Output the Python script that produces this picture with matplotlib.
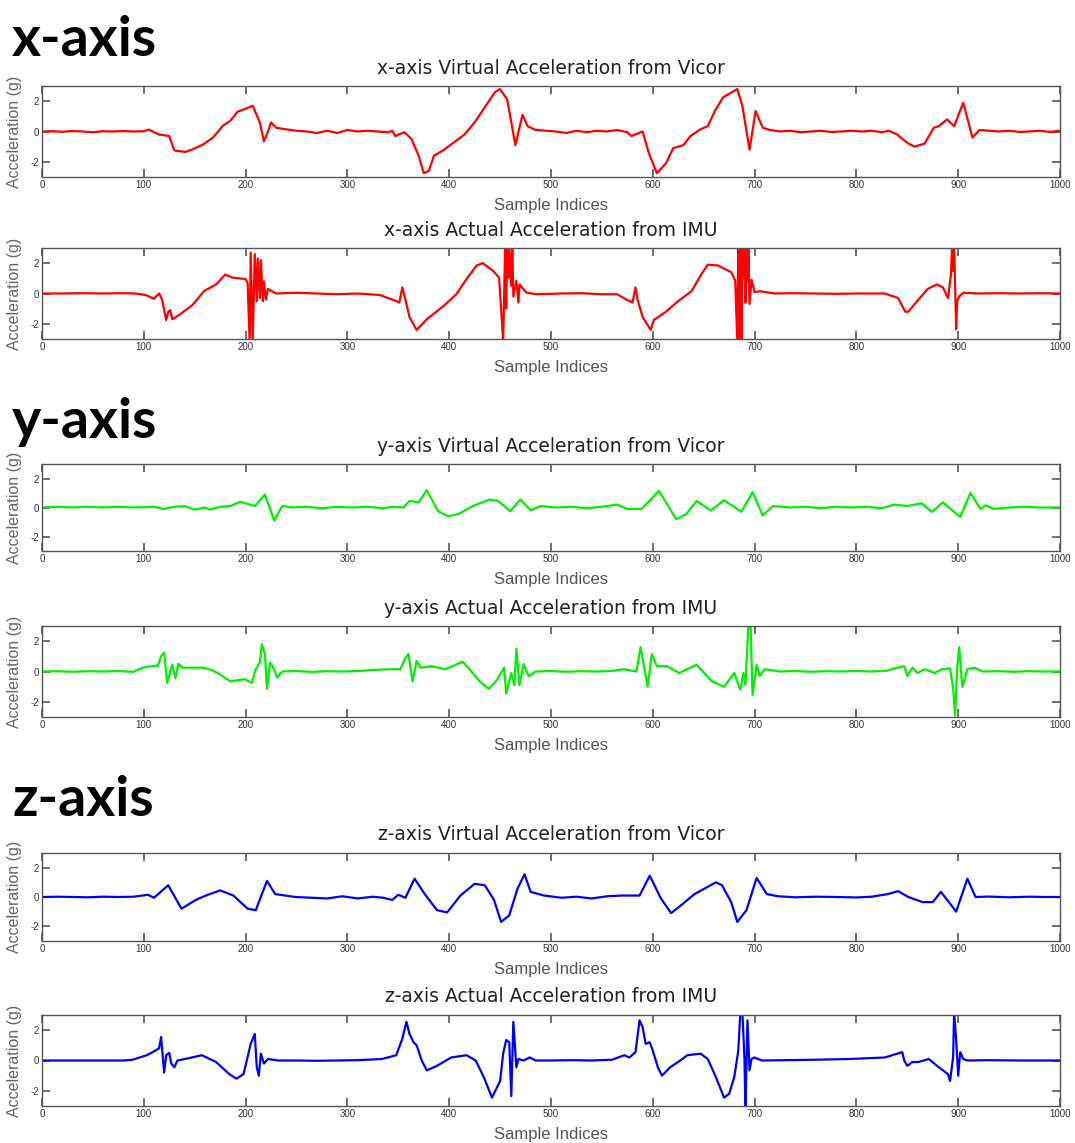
import matplotlib
matplotlib.use("Agg")
import matplotlib.pyplot as plt

plt.rcParams['axes.unicode_minus'] = False
plt.rcParams['font.family'] = ['Liberation Sans', 'DejaVu Sans']

# ---- datos (indice de muestra, aceleracion en g) ----
xv_idx = [0, 10, 20, 30, 40, 50, 60, 70, 80, 90,
          100, 105, 110, 115, 125, 130, 141, 147, 158, 168,
          178, 185, 192, 200, 207, 214, 218, 222, 225, 230,
          239, 250, 260, 270, 280, 290, 300, 310, 320, 330,
          340, 344, 347, 352, 356, 363, 370, 375, 380, 385,
          395, 405, 415, 425, 435, 445, 450, 457, 465, 472,
          477, 485, 495, 505, 515, 525, 535, 545, 555, 565,
          575, 579, 590, 596, 604, 613, 620, 630, 637, 647,
          654, 661, 669, 678, 683, 688, 695, 701, 708, 715,
          725, 735, 745, 755, 765, 775, 785, 795, 805, 815,
          825, 832, 840, 850, 857, 867, 876, 881, 889, 896,
          905, 914, 921, 930, 940, 950, 960, 970, 980, 990,
          1000]
xv_val = [0, 0.02, -0.02, 0.03, 0, -0.05, 0.02, 0, 0.03, 0,
          0.02, 0.13, -0.05, -0.2, -0.3, -1.25, -1.35, -1.2, -0.87, -0.4,
          0.4, 0.7, 1.3, 1.5, 1.7, 0.6, -0.65, 0, 0.6, 0.25,
          0.15, 0.05, 0, -0.1, 0.05, -0.1, 0.1, 0, 0.05, 0,
          -0.05, 0.05, -0.3, -0.15, -0.05, -0.5, -1.6, -2.75, -2.6, -1.6,
          -1.2, -0.7, -0.2, 0.6, 1.6, 2.6, 2.8, 2.1, -0.9, 1.1,
          0.35, 0.1, 0.05, 0, -0.1, 0.05, -0.05, 0.05, 0, 0.1,
          -0.05, -0.3, 0, -1.4, -2.75, -2.1, -1.1, -0.9, -0.3, 0.15,
          0.35, 1.35, 2.25, 2.6, 2.8, 1.7, -1.2, 1.35, 0.25, 0.1,
          0, 0.05, -0.05, 0, 0.05, -0.03, 0, 0.05, 0, 0.05,
          -0.05, 0.05, -0.2, -0.75, -1.0, -0.8, 0.25, 0.35, 0.8, 0.35,
          1.9, -0.4, 0.1, 0.05, 0, 0.05, -0.03, 0, 0.05, -0.03,
          0.05]

xa_idx = [0, 20, 40, 60, 80, 92, 102, 110, 115, 118,
          122, 124, 126, 128, 135, 148, 159, 171, 180, 187,
          200, 202, 204, 205, 207, 209, 211, 212, 214, 215,
          217, 218, 220, 222, 230, 250, 270, 290, 310, 332,
          340, 348, 351, 354, 357, 361, 368, 378, 394, 407,
          417, 427, 433, 443, 449, 451, 453, 455, 456, 457,
          458, 459, 461, 462, 463, 466, 468, 469, 476, 486,
          510, 530, 550, 565, 574, 580, 583, 585, 590, 598,
          601, 613, 625, 638, 648, 654, 664, 677, 681, 683,
          684, 685, 686, 687, 688, 689, 690, 691, 692, 693,
          694, 695, 697, 700, 705, 720, 740, 760, 780, 800,
          815, 828, 841, 848, 851, 861, 870, 879, 885, 890,
          893, 894, 895, 896, 898, 899, 901, 905, 920, 940,
          960, 980, 1000]
xa_val = [0, 0, 0.02, 0, 0.02, 0, -0.1, -0.35, 0, -0.4,
          -1.75, -1.2, -1.1, -1.7, -1.4, -0.75, 0.15, 0.6, 1.25, 1.05,
          0.95, 0.7, -3.2, 2.7, -3.2, 2.6, -0.5, 2.3, -0.3, 2.2,
          -0.5, 0.8, -0.4, 0.3, 0, 0.05, 0, -0.05, 0, -0.1,
          -0.3, -0.5, -0.6, 0.4, -0.4, -1.55, -2.4, -1.7, -0.85, -0.05,
          0.95, 1.85, 2.0, 1.5, 1.05, -1.0, -3.2, 3.2, -1.0, 3.2,
          1.0, 3.2, 0.5, 3.2, -0.2, 0.85, -0.6, 0.6, 0.05, -0.05,
          0, 0.02, -0.05, -0.05, -0.4, -0.6, 0.4, -0.4, -1.55, -2.4,
          -1.75, -1.2, -0.5, 0.15, 1.3, 1.9, 1.85, 1.4, 0.85, -3.2,
          3.2, -3.2, 3.2, -3.2, 3.2, 1.0, 3.2, -0.6, 3.2, 0.8,
          3.2, -0.7, 0.9, 0.1, 0.15, 0, 0.02, 0, -0.02, 0,
          0, 0, -0.3, -1.2, -1.2, -0.4, 0.3, 0.6, 0.4, -0.3,
          1.3, 3.2, 1.5, 3.2, -2.35, -0.5, -0.2, 0.05, 0, 0.02,
          0, 0.02, 0]

yv_idx = [0, 15, 30, 45, 60, 75, 90, 110, 120, 130,
          140, 150, 160, 165, 175, 185, 195, 209, 219, 228,
          236, 246, 260, 275, 290, 305, 320, 335, 345, 355,
          361, 370, 378, 389, 399, 409, 423, 440, 448, 460,
          470, 480, 490, 505, 520, 535, 550, 565, 575, 589,
          606, 623, 633, 643, 657, 670, 687, 698, 708, 718,
          735, 750, 765, 780, 795, 810, 825, 837, 850, 864,
          874, 885, 902, 912, 922, 927, 935, 950, 965, 980,
          1000]
yv_val = [0, 0.05, 0, 0.05, 0, 0.05, 0, 0.05, -0.1, 0.05,
          0.1, -0.15, 0, -0.15, 0.05, 0.1, 0.4, 0.1, 0.9, -0.9,
          0.1, 0, 0.05, -0.05, 0.05, 0, 0.05, -0.05, 0.05, 0,
          0.45, 0.35, 1.2, -0.25, -0.6, -0.45, 0.1, 0.55, 0.45, -0.25,
          0.55, -0.2, 0.1, 0, 0.05, -0.05, 0.05, 0.2, -0.1, -0.1,
          1.15, -0.8, -0.45, 0.45, -0.2, 0.5, -0.3, 1.05, -0.55, 0.1,
          0, 0.05, -0.05, 0.05, 0, 0.05, -0.05, 0.2, 0.1, 0.3,
          -0.3, 0.35, -0.65, 1.0, -0.1, 0.15, -0.1, 0, 0.05, 0,
          0]

ya_idx = [0, 15, 30, 45, 60, 75, 90, 97, 102, 114,
          117, 120, 123, 128, 131, 134, 138, 145, 158, 167,
          175, 185, 199, 206, 210, 214, 216, 219, 221, 224,
          228, 231, 236, 250, 265, 280, 295, 310, 325, 342,
          352, 357, 360, 364, 368, 372, 383, 396, 403, 413,
          420, 430, 439, 447, 454, 456, 461, 464, 466, 469,
          473, 478, 485, 500, 515, 530, 545, 560, 571, 584,
          588, 595, 599, 604, 614, 626, 643, 658, 670, 680,
          686, 689, 691, 694, 696, 698, 702, 705, 710, 725,
          740, 755, 770, 785, 800, 815, 830, 840, 847, 850,
          855, 860, 867, 877, 884, 892, 895, 897, 899, 901,
          904, 909, 916, 924, 940, 955, 970, 985, 1000]
ya_val = [0, 0.02, -0.02, 0.02, 0, 0.03, -0.02, 0.2, 0.3, 0.4,
          1.0, 1.25, -0.75, 0.45, -0.45, 0.5, 0.25, 0.25, 0.25, 0.1,
          -0.2, -0.65, -0.5, -0.75, 0.15, 0.6, 1.8, 1.15, -1.15, 0.6,
          0.15, -0.4, 0, 0.03, -0.03, 0.02, 0, 0.03, 0.1, 0.15,
          0.15, 0.9, 1.15, -0.65, 0.7, 0.25, 0.35, 0.15, 0.35, 0.65,
          0.15, -0.65, -1.15, -0.55, 0.25, -1.45, -0.1, -0.9, 1.5, -0.9,
          0.5, -0.3, 0, 0.03, -0.02, 0.02, 0, 0.03, 0.15, 0,
          1.6, -1.0, 1.15, 0.35, 0.35, -0.1, 0.45, -0.65, -1.0, -0.1,
          -1.2, -0.1, -0.9, 3.2, 3.2, -1.55, 0.45, -0.3, 0.15, 0,
          0.03, -0.02, 0.02, 0, 0.03, 0, 0.05, 0.25, 0.35, -0.3,
          0.25, -0.1, 0.15, -0.1, 0.15, 0.2, -1.1, -2.9, 0.25, 1.6,
          -1.0, 0.15, 0.25, 0, 0.02, -0.02, 0.02, 0, 0]

zv_idx = [0, 15, 30, 45, 60, 75, 90, 104, 110, 124,
          137, 151, 161, 175, 188, 202, 210, 221, 229, 249,
          265, 280, 295, 310, 325, 335, 344, 350, 357, 366,
          376, 388, 398, 411, 425, 435, 444, 451, 459, 467,
          474, 480, 493, 510, 525, 540, 555, 570, 587, 597,
          608, 618, 628, 641, 662, 668, 677, 683, 692, 702,
          712, 723, 740, 760, 780, 800, 815, 831, 841, 851,
          865, 875, 883, 892, 898, 909, 917, 930, 950, 970,
          985, 1000]
zv_val = [0, 0.02, 0, -0.02, 0.02, 0, 0.02, 0.15, -0.05, 0.8,
          -0.8, -0.2, 0.1, 0.45, 0.1, -0.8, -0.9, 1.1, 0.2, 0,
          -0.05, -0.1, 0.05, -0.1, 0.02, -0.05, -0.2, 0.15, -0.05, 1.25,
          0.2, -0.9, -1.05, 0.1, 0.9, 0.8, -0.2, -1.7, -1.25, 0.55,
          1.55, 0.35, 0.1, -0.05, 0.02, -0.1, 0.05, 0.1, 0.1, 1.45,
          -0.1, -1.1, -0.55, 0.2, 1.0, 0.8, -0.35, -1.7, -0.9, 1.3,
          0.2, 0.05, -0.02, 0.02, 0, -0.03, 0.02, 0.2, 0.4, 0,
          -0.35, -0.35, 0.35, -0.45, -1.0, 1.25, 0, 0.03, -0.02, 0.02,
          0, 0]

za_idx = [0, 20, 40, 60, 80, 89, 103, 110, 115, 117,
          120, 122, 125, 127, 130, 133, 144, 157, 171, 184,
          191, 198, 205, 209, 211, 213, 215, 218, 222, 232,
          250, 270, 290, 310, 334, 348, 354, 358, 361, 365,
          368, 373, 378, 388, 402, 417, 426, 434, 442, 450,
          453, 456, 459, 461, 463, 466, 468, 473, 479, 485,
          500, 520, 540, 560, 572, 577, 583, 587, 590, 593,
          597, 600, 605, 609, 617, 627, 634, 647, 654, 662,
          670, 675, 680, 684, 686, 688, 690, 691, 693, 695,
          697, 700, 707, 730, 760, 794, 828, 845, 847, 850,
          855, 861, 871, 881, 890, 892, 895, 896, 898, 900,
          902, 905, 909, 930, 960, 1000]
za_val = [0, 0, 0, 0, 0, 0.05, 0.35, 0.6, 0.8, 1.55,
          -0.8, 0.35, 0.5, -0.2, -0.45, 0, 0.15, 0.35, -0.1, -0.9,
          -1.2, -0.9, 1.1, 1.75, -0.45, -1.0, 0.45, -0.2, 0.1, 0,
          0, -0.02, 0, 0.02, 0.1, 0.35, 1.45, 2.55, 1.75, 1.2,
          1.0, 0, -0.65, -0.35, 0.2, 0.35, 0, -1.1, -2.45, -1.35,
          0.45, 1.35, 1.2, -2.35, 2.55, -0.45, 0.1, 0, 0.2, 0,
          0, 0.02, 0, 0.05, 0.35, 0.2, 0.55, 2.65, 2.2, 1.1,
          1.2, 0.65, -0.45, -1.0, -0.45, 0, 0.35, 0.45, 0.1, -1.1,
          -2.45, -2.2, -1.1, 0.65, 3.2, 3.2, 0.2, -3.2, 2.65, -0.65,
          0.1, 0.2, 0, 0.02, 0.05, 0.1, 0.2, 0.55, 0, -0.35,
          -0.1, -0.1, 0.1, -0.45, -0.9, -1.35, 0.2, 3.2, 1.35, -1.0,
          0.55, 0.1, 0, 0.02, 0, 0]

titles = ["x-axis Virtual Acceleration from Vicor",
          "x-axis Actual Acceleration from IMU",
          "y-axis Virtual Acceleration from Vicor",
          "y-axis Actual Acceleration from IMU",
          "z-axis Virtual Acceleration from Vicor",
          "z-axis Actual Acceleration from IMU"]
series = [(xv_idx, xv_val), (xa_idx, xa_val), (yv_idx, yv_val),
          (ya_idx, ya_val), (zv_idx, zv_val), (za_idx, za_val)]
colores = ['#ff0000', '#ff0000', '#00f000', '#00f000', '#0000ff', '#0000ff']
x_ticks = [0, 100, 200, 300, 400, 500, 600, 700, 800, 900, 1000]
y_ticks = [-2, 0, 2]

# posicion de cada panel en pixeles (arriba, abajo)
W, H = 1075, 1143
cajas = [(86, 177), (248, 339), (464, 551), (626, 717), (853, 941), (1015, 1106)]

fig = plt.figure(figsize=(W / 100, H / 100), dpi=100)

for i, (top, bot) in enumerate(cajas):
    ax = fig.add_axes([42 / W, 1 - bot / H, 1018 / W, (bot - top) / H])
    idx, val = series[i]
    ax.plot(idx, val, color=colores[i], lw=1.6)
    ax.set_xlim(0, 1000)
    ax.set_ylim(-3, 3)
    ax.set_xticks(x_ticks)
    ax.set_yticks(y_ticks)
    ax.tick_params(direction='in', top=True, right=True, length=6, width=1.2,
                   color='#555555', labelsize=7, labelcolor='#333333', pad=2)
    for s in ax.spines.values():
        s.set_color('#555555')
        s.set_linewidth(1)
    ax.set_title(titles[i], fontsize=13.5, color='#222222', pad=9,
                 family=['DejaVu Sans'])
    ax.set_xlabel("Sample Indices", fontsize=12, color='#555555', labelpad=6)
    ax.set_ylabel("Acceleration (g)", fontsize=11.5, color='#666666', labelpad=6)

# encabezados grandes
for txt, yb in [("x-axis", 56), ("y-axis", 438), ("z-axis", 816)]:
    fig.text(12 / W, 1 - yb / H, txt, fontsize=40, fontweight='bold',
             family=['Lato', 'DejaVu Sans'], va='baseline', ha='left')

fig.savefig("out.png", dpi=100)
